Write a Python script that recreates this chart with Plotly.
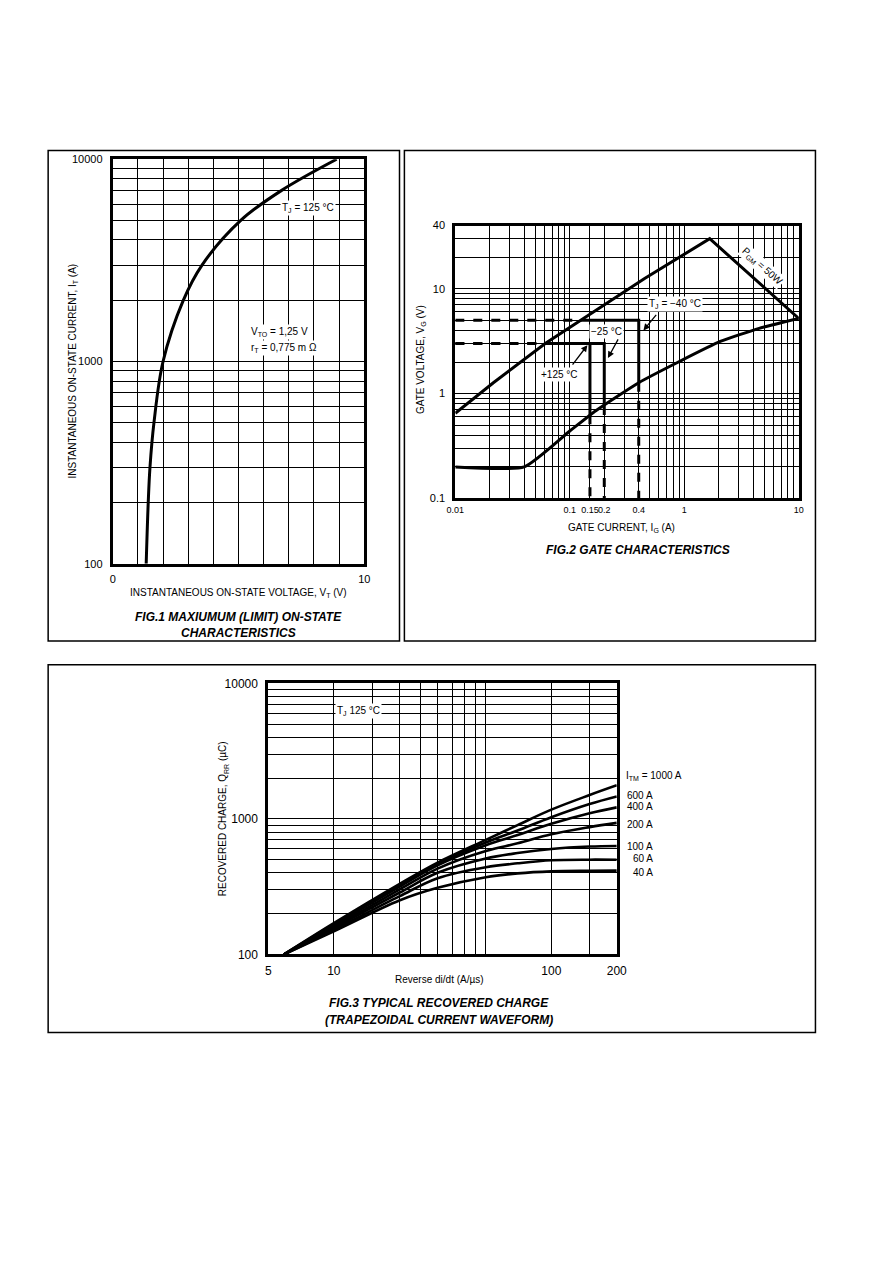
import plotly.graph_objects as go

W, H = 892, 1263
FONT = "Liberation Sans, Arial, sans-serif"

# FIG.1 maximum on-state characteristic (Tj = 125 C)
vt_volts = [1.33, 1.41, 1.48, 1.64, 2.0, 2.8, 3.55, 5.1, 6.7, 8.9]
it_amps = [100, 200, 300, 500, 1000, 2000, 3000, 5000, 7000, 10000]

# FIG.2 gate characteristics
ig_upper = [0.01, 0.0215, 0.061, 0.125, 0.45, 1.667, 10]
vg_upper = [0.65, 1.27, 3.0, 5.0, 12.5, 30, 5.2]
ig_lower = [0.01, 0.04, 0.1, 0.17, 0.4, 0.88, 2.06, 4.5, 10]
vg_lower = [0.2, 0.2, 0.44, 0.69, 1.27, 1.99, 3.14, 4.19, 5.2]

gate_temps = ["-40", "-25", "+125"]
gate_ig_trig = [0.4, 0.2, 0.15]        # gate trigger current
gate_vg_trig = [5, 3, 3]               # gate trigger voltage
gate_ig_cross = [0.125, 0.061, 0.061]  # trigger voltage meets the upper curve
gate_vg_cross = [1.27, 0.76, 0.62]     # trigger current meets the lower curve

# FIG.3 typical recovered charge
didt = [5.9, 10, 20, 30, 50, 70, 100, 150, 200]
itm_labels = ["1000 A", "600 A", "400 A", "200 A", "100 A", "60 A", "40 A"]
qrr_1000 = [100, 170, 330, 475, 700, 900, 1170, 1500, 1770]
qrr_600 = [100, 167, 322, 465, 670, 820, 1030, 1290, 1466]
qrr_400 = [100, 164, 315, 455, 640, 760, 920, 1100, 1216]
qrr_200 = [100, 160, 300, 430, 580, 660, 770, 870, 935]
qrr_100 = [100, 156, 285, 400, 510, 560, 600, 625, 631]
qrr_60 = [100, 152, 268, 365, 440, 470, 495, 500, 499]
qrr_40 = [100, 148, 250, 310, 371, 396, 410, 414, 415]
qrr_all = [qrr_1000, qrr_600, qrr_400, qrr_200, qrr_100, qrr_60, qrr_40]


def fx(x):
    return x / W


def fy(y):
    return 1 - y / H


def log_grid(lo, hi):
    vals = []
    d = lo
    while d < hi:
        for m in range(1, 10):
            v = round(d * m, 6)
            if v <= hi:
                vals.append(v)
        d *= 10
    if hi not in vals:
        vals.append(hi)
    return vals


def fmt(vals):
    return [f"{v:g}" for v in vals]


fig = go.Figure()

# ---- FIG.1 ----
fig.add_trace(go.Scatter(x=vt_volts, y=it_amps, mode="lines",
                         line=dict(color="black", width=3, shape="spline"), xaxis="x", yaxis="y"))

# ---- FIG.2 ----
fig.add_trace(go.Scatter(x=ig_upper, y=vg_upper, mode="lines", line=dict(color="black", width=3),
                         xaxis="x2", yaxis="y2"))
fig.add_trace(go.Scatter(x=ig_lower, y=vg_lower, mode="lines",
                         line=dict(color="black", width=3, shape="spline", smoothing=0.5),
                         xaxis="x2", yaxis="y2"))

# trigger boundaries: solid part inside the gate area, dashed extension to the axes
dash_x, dash_y, solid_x, solid_y = [], [], [], []
for ig, vg, igc, vgc in zip(gate_ig_trig, gate_vg_trig, gate_ig_cross, gate_vg_cross):
    dash_x += [0.01, igc, None, ig, ig, None]
    dash_y += [vg, vg, None, vgc, 0.1, None]
    solid_x += [igc, ig, ig, None]
    solid_y += [vg, vg, vgc, None]
fig.add_trace(go.Scatter(x=dash_x, y=dash_y, mode="lines", line=dict(color="black", width=3, dash="dash"),
                         xaxis="x2", yaxis="y2"))
fig.add_trace(go.Scatter(x=solid_x, y=solid_y, mode="lines", line=dict(color="black", width=3),
                         xaxis="x2", yaxis="y2"))

# ---- FIG.3 ----
for q in qrr_all:
    fig.add_trace(go.Scatter(x=didt, y=q, mode="lines", line=dict(color="black", width=2.6, shape="spline"),
                             xaxis="x3", yaxis="y3"))

axis_common = dict(showline=True, mirror=True, linewidth=3, linecolor="black", showgrid=True,
                   gridcolor="black", gridwidth=1, zeroline=False, ticks="", ticklabelstandoff=5,
                   tickangle=0, tickfont=dict(family=FONT, size=11, color="black"), fixedrange=True)


def grid(vals):
    return dict(tickmode="array", tickvals=vals, showgrid=True, gridcolor="black", gridwidth=1, ticks="")


fig1_xt = [0, 10]
fig1_yt = [100, 1000, 10000]
fig2_xt = [0.01, 0.1, 0.15, 0.2, 0.4, 1, 10]
fig2_yt = [0.1, 1, 10, 40]
fig3_xt = [5, 10, 100, 200]
fig3_yt = [100, 1000, 10000]

fig.update_layout(
    width=W, height=H, margin=dict(l=0, r=0, t=0, b=0),
    paper_bgcolor="white", plot_bgcolor="white", showlegend=False,
    font=dict(family=FONT, color="black"),
    xaxis=dict(axis_common, domain=[fx(106), fx(363)], range=[0, 10], anchor="y", ticklabelstandoff=3,
               tickvals=fig1_xt, ticktext=fmt(fig1_xt), minor=grid(list(range(11)))),
    yaxis=dict(axis_common, domain=[fy(563), fy(154)], type="log", range=[2, 4], anchor="x",
               tickvals=fig1_yt, ticktext=fmt(fig1_yt), minor=grid(log_grid(100, 10000))),
    xaxis2=dict(axis_common, domain=[fx(456), fx(807)], type="log", range=[-2, 1], anchor="y2",
                ticklabelstandoff=1, tickvals=fig2_xt, ticktext=fmt(fig2_xt), minor=grid(log_grid(0.01, 10)),
                tickfont=dict(family=FONT, size=9, color="black")),
    yaxis2=dict(axis_common, domain=[fy(497), fy(221)], type="log", range=[-1, 1.60206], anchor="x2",
                tickvals=fig2_yt, ticktext=fmt(fig2_yt), minor=grid(log_grid(0.1, 40))),
    xaxis3=dict(axis_common, domain=[fx(265), fx(621)], type="log", range=[0.69897, 2.30103], anchor="y3",
                ticklabelstandoff=3, tickvals=fig3_xt, ticktext=fmt(fig3_xt), minor=grid(log_grid(5, 200)),
                tickfont=dict(family=FONT, size=12, color="black")),
    yaxis3=dict(axis_common, domain=[fy(958), fy(684)], type="log", range=[2, 4], anchor="x3",
                tickvals=fig3_yt, ticktext=fmt(fig3_yt), minor=grid(log_grid(100, 10000)),
                tickfont=dict(family=FONT, size=12, color="black")),
)

# frames around each figure
for x0, y0, x1, y1 in [(40, 145, 399, 641), (404, 145, 824, 641), (40, 665, 824, 1037)]:
    fig.add_shape(type="rect", xref="paper", yref="paper", x0=fx(x0), x1=fx(x1), y0=fy(y1), y1=fy(y0),
                  line=dict(color="black", width=1.5))

annotations = []


def note(x, y, text, size=10, angle=0, bg=None, xanchor="center", bold_italic=False):
    if bold_italic:
        text = "<b><i>" + text + "</i></b>"
    annotations.append(dict(x=fx(x), y=fy(y), xref="paper", yref="paper", text=text, showarrow=False,
                            textangle=angle, xanchor=xanchor, yanchor="middle",
                            font=dict(family=FONT, size=size, color="black"),
                            bgcolor=bg if bg else "rgba(0,0,0,0)", borderpad=1))


def arrow(x, y, xr, yr, dx, dy):
    annotations.append(dict(x=x, y=y, xref=xr, yref=yr, text="", showarrow=True, arrowhead=2,
                            arrowsize=1, arrowwidth=1.3, arrowcolor="black", ax=dx, ay=dy))


# FIG.1 texts
note(65, 368, "INSTANTANEOUS ON-STATE CURRENT, I<sub>T</sub> (A)", size=10, angle=-90)
note(235, 593, "INSTANTANEOUS ON-STATE VOLTAGE, V<sub>T</sub> (V)", size=10)
note(235, 617, "FIG.1 MAXIUMUM (LIMIT) ON-STATE", size=12, bold_italic=True)
note(235, 633, "CHARACTERISTICS", size=12, bold_italic=True)
note(306, 203, "T<sub>J</sub> = 125 °C", size=10, bg="white")
note(245, 329, "V<sub>TO</sub> = 1,25 V", size=10, bg="white", xanchor="left")
note(245, 345, "r<sub>T</sub> = 0,775 m Ω", size=10, bg="white", xanchor="left")

# FIG.2 texts
note(421, 357, "GATE VOLTAGE, V<sub>G</sub> (V)", size=10, angle=-90)
note(626, 527, "GATE CURRENT, I<sub>G</sub> (A)", size=10)
note(643, 549, "FIG.2 GATE CHARACTERISTICS", size=12, bold_italic=True)
note(681, 300, "T<sub>J</sub> = −40 °C", size=10, bg="white")
note(611, 328, "−25 °C", size=10, bg="white")
note(562, 372, "+125 °C", size=10, bg="white")
note(769, 262, "P<sub>GM</sub> = 50W", size=10, angle=42, bg="white")
arrow(-0.357, 0.602, "x2", "y2", 14, -17)
arrow(-0.667, 0.340, "x2", "y2", 11, -20)
arrow(-0.846, 0.462, "x2", "y2", -16, 21)

# FIG.3 texts
note(219, 821, "RECOVERED CHARGE, Q<sub>RR</sub> (µC)", size=10, angle=-90)
note(440, 983, "Reverse di/dt (A/µs)", size=10)
note(439, 1007, "FIG.3 TYPICAL RECOVERED CHARGE", size=12, bold_italic=True)
note(439, 1024, "(TRAPEZOIDAL CURRENT WAVEFORM)", size=12, bold_italic=True)
note(357, 712, "T<sub>J</sub> 125 °C", size=10, bg="white")
label_y = [778, 797, 808, 827, 849, 861, 875]
for lab, ly in zip(itm_labels, label_y):
    if lab == "1000 A":
        note(628, ly, "I<sub>TM</sub> = " + lab, size=10, xanchor="left")
    else:
        note(660, ly, lab, size=10, xanchor="right")

fig.update_layout(annotations=annotations)

fig.write_html("out.html", config={"displayModeBar": False},
               post_script="document.body.style.margin='0';document.body.style.overflow='hidden';")
